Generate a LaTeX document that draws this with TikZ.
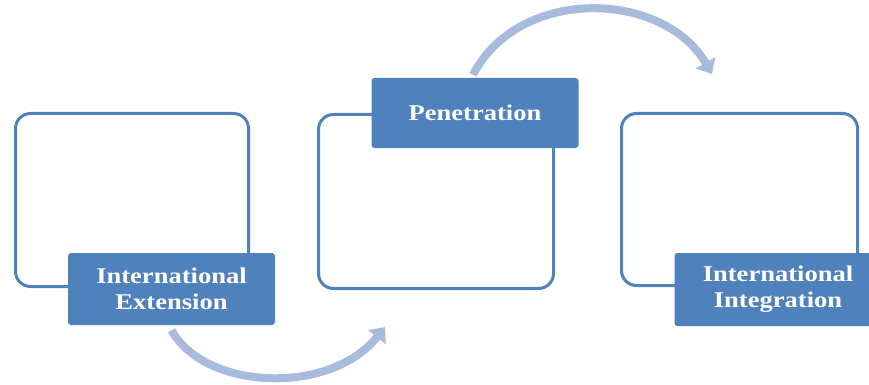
\documentclass[tikz,border=0pt]{standalone}
\usepackage{fontspec}
\setmainfont{Liberation Serif}[FakeStretch=1.18]
\usetikzlibrary{arrows.meta,positioning,calc}
\definecolor{frameblue}{RGB}{79,129,189}
\definecolor{tagblue}{RGB}{79,129,189}
\definecolor{flowblue}{RGB}{168,187,220}
\begin{document}
\begin{tikzpicture}[x=1pt,y=-1pt,
				stage/.style={rectangle, rounded corners=15pt, draw=frameblue, line width=3pt, inner sep=0pt},
				tag/.style={rectangle, rounded corners=3pt, fill=tagblue, text=white, align=center, inner sep=0pt,
					minimum width=207pt, font=\fontsize{22.5}{26}\selectfont\bfseries},
				flow/.style={draw=flowblue, line width=8pt, -{Triangle[length=13pt,width=22pt]}}
			]
			\useasboundingbox (0,0) rectangle (869,385);
			
			\node[stage, minimum width=233pt, minimum height=173pt] (box_1) at (132,200) {};
			\node[stage, minimum width=235pt, minimum height=174pt] (box_2) at (436,201.5) {};
			\node[stage, minimum width=236pt, minimum height=172pt] (box_3) at (739.5,199.5) {};
			
			\node[tag, minimum height=72pt] (lab_1) at (171.5,289) {International\\Extension};
			\node[tag, minimum height=70pt] (lab_2) at (475,113) {Penetration};
			\node[tag, minimum height=73pt] (lab_3) at (778,289.5) {International\\Integration};
			
			\coordinate (end_1) at ($(box_2.south west)+(68,37)$);
			\coordinate (end_2) at ($(box_3.north west)+(92,-38)$);
			
			\draw[flow] (lab_1.south) ++(0,5) .. controls +(33,60) and +(-55,69) .. (end_1);
			\draw[flow] (lab_2.north) ++(-2,-3) .. controls +(47,-90) and +(-48,-83) .. (end_2);
\end{tikzpicture}
\end{document}
